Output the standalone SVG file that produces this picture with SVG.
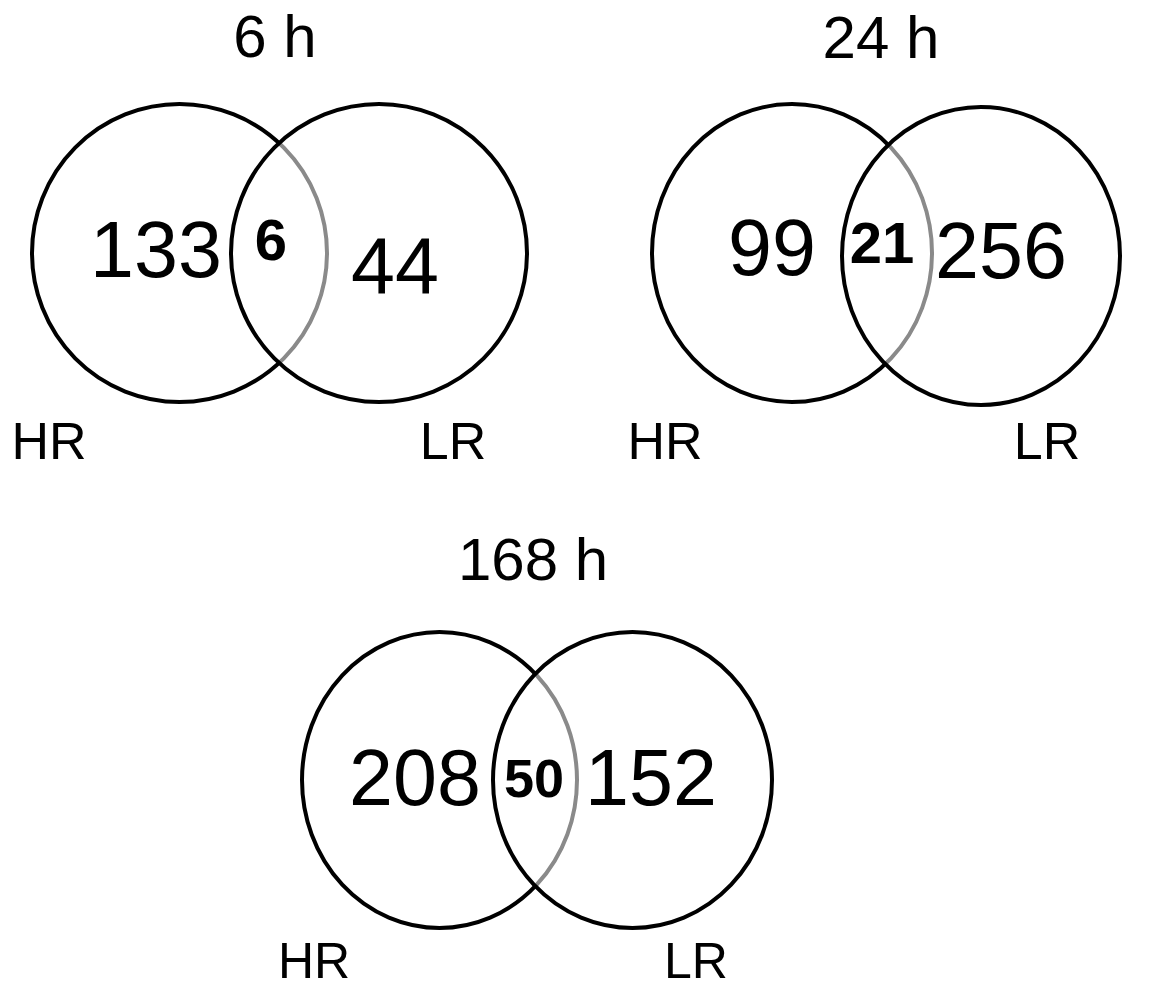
<svg xmlns="http://www.w3.org/2000/svg" width="1153" height="990" viewBox="0 0 1153 990">
<style>
.t{font-family:"Liberation Sans",Arial,sans-serif;fill:#000}
.title{font-size:60px}
.num{font-size:79px}
.mid{font-weight:bold;font-size:58px}
.lab{font-size:52px}
.c{fill:none;stroke:#000;stroke-width:4}
.g{fill:none;stroke:#8a8a8a;stroke-width:4}
</style>
<defs>
<mask id="m1"><rect width="1153" height="990" fill="#fff"/><ellipse cx="379" cy="253" rx="148" ry="149" fill="#000"/></mask>
<clipPath id="k1"><ellipse cx="379" cy="253" rx="148" ry="149"/></clipPath>
<mask id="m2"><rect width="1153" height="990" fill="#fff"/><ellipse cx="981" cy="256" rx="139" ry="149" fill="#000"/></mask>
<clipPath id="k2"><ellipse cx="981" cy="256" rx="139" ry="149"/></clipPath>
<mask id="m3"><rect width="1153" height="990" fill="#fff"/><ellipse cx="632.5" cy="780" rx="139.5" ry="148" fill="#000"/></mask>
<clipPath id="k3"><ellipse cx="632.5" cy="780" rx="139.5" ry="148"/></clipPath>
</defs>
<g id="venn-6h">
<text class="t title" x="275" y="57" text-anchor="middle">6 h</text>
<ellipse class="c" cx="179.5" cy="253" rx="147.5" ry="149" mask="url(#m1)"/>
<ellipse class="g" cx="179.5" cy="253" rx="147.5" ry="149" clip-path="url(#k1)"/>
<ellipse class="c" cx="379" cy="253" rx="148" ry="149"/>
<text class="t num" x="156" y="277" text-anchor="middle">133</text>
<text class="t mid" x="271" y="260" text-anchor="middle">6</text>
<text class="t num" x="395" y="293" text-anchor="middle">44</text>
<text class="t lab" x="49" y="459" text-anchor="middle">HR</text>
<text class="t lab" x="453" y="459" text-anchor="middle">LR</text>
</g>
<g id="venn-24h">
<text class="t title" x="881" y="58" text-anchor="middle">24 h</text>
<ellipse class="c" cx="792" cy="253" rx="140" ry="149" mask="url(#m2)"/>
<ellipse class="g" cx="792" cy="253" rx="140" ry="149" clip-path="url(#k2)"/>
<ellipse class="c" cx="981" cy="256" rx="139" ry="149"/>
<text class="t num" x="772" y="275" text-anchor="middle">99</text>
<text class="t mid" x="882" y="263" text-anchor="middle">21</text>
<text class="t num" x="1001" y="278" text-anchor="middle">256</text>
<text class="t lab" x="665" y="459" text-anchor="middle">HR</text>
<text class="t lab" x="1047" y="459" text-anchor="middle">LR</text>
</g>
<g id="venn-168h">
<text class="t title" x="533" y="580" text-anchor="middle">168 h</text>
<ellipse class="c" cx="439.5" cy="780" rx="137.5" ry="148" mask="url(#m3)"/>
<ellipse class="g" cx="439.5" cy="780" rx="137.5" ry="148" clip-path="url(#k3)"/>
<ellipse class="c" cx="632.5" cy="780" rx="139.5" ry="148"/>
<text class="t num" x="415" y="805" text-anchor="middle">208</text>
<text class="t mid" x="534" y="797" text-anchor="middle" style="font-size:54px">50</text>
<text class="t num" x="651" y="805" text-anchor="middle">152</text>
<text class="t lab" x="314" y="978" text-anchor="middle" style="font-size:50px">HR</text>
<text class="t lab" x="696" y="978" text-anchor="middle" style="font-size:50px">LR</text>
</g>
<g id="connectors"/>
</svg>
